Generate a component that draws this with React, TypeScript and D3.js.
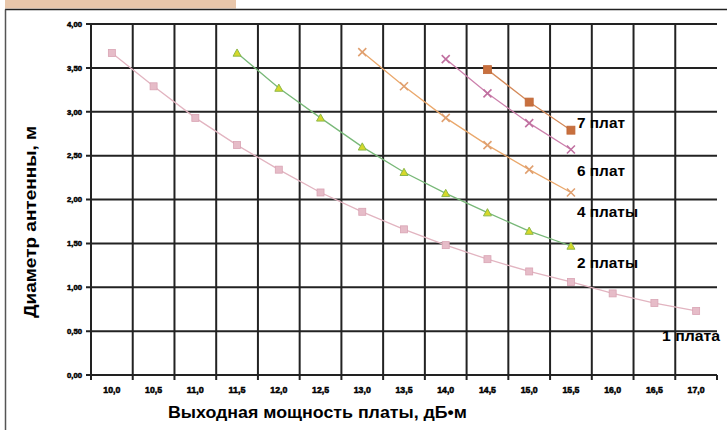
import React from "react";
import * as d3 from "d3";

const categories = ["10,0","10,5","11,0","11,5","12,0","12,5","13,0","13,5","14,0","14,5","15,0","15,5","16,0","16,5","17,0"];
const yTicks = [0, 0.5, 1, 1.5, 2, 2.5, 3, 3.5, 4];
const yTickLabels = ["0,00","0,50","1,00","1,50","2,00","2,50","3,00","3,50","4,00"];

const plate1 = [3.67, 3.29, 2.93, 2.62, 2.34, 2.08, 1.86, 1.66, 1.48, 1.32, 1.18, 1.06, 0.93, 0.82, 0.73];
const plate2 = [null, null, null, 3.67, 3.27, 2.93, 2.6, 2.31, 2.07, 1.85, 1.64, 1.47, null, null, null];
const plate4 = [null, null, null, null, null, null, 3.68, 3.29, 2.93, 2.62, 2.34, 2.08, null, null, null];
const plate6 = [null, null, null, null, null, null, null, null, 3.6, 3.21, 2.87, 2.57, null, null, null];
const plate7 = [null, null, null, null, null, null, null, null, null, 3.48, 3.11, 2.79, null, null, null];

const seriesNames = ["1 плата", "2 платы", "4 платы", "6 плат", "7 плат"];

type Pt = { i: number; v: number };

export default function App() {
  const W = 727, H = 430;
  const left = 91, right = 717, top = 24, bottom = 375;
  const x = d3.scaleBand<string>().domain(categories).range([left, right]).paddingInner(0).paddingOuter(0);
  const y = d3.scaleLinear().domain([0, 4]).range([bottom, top]);
  const bw = x.bandwidth();
  const cx = (i: number) => (x(categories[i]) as number) + bw / 2;

  const toPts = (arr: (number | null)[]): Pt[] =>
    arr.map((v, i) => ({ i, v: v as number })).filter((p) => p.v !== null && p.v !== undefined);

  const line = d3.line<Pt>().x((p) => cx(p.i)).y((p) => y(p.v));

  const series = [
    { data: plate1, line: "#e2b4c0", marker: "square", fill: "#e6bcc8", stroke: "#d9a4b4", size: 7 },
    { data: plate2, line: "#78b878", marker: "triangle", fill: "#d6d82a", stroke: "#8cb84a", size: 8 },
    { data: plate4, line: "#eaa86c", marker: "x", fill: "none", stroke: "#e0a070", size: 8 },
    { data: plate6, line: "#cc80ac", marker: "x", fill: "none", stroke: "#c070a0", size: 8 },
    { data: plate7, line: "#d48a5a", marker: "square", fill: "#c8703e", stroke: "#c06838", size: 8 },
  ];

  const vLines = d3.range(categories.length).map((i) => x(categories[i]) as number);

  const labelFont = "'Liberation Sans Narrow', 'Arial Narrow', 'Liberation Sans', Arial, sans-serif";

  const seriesLabels = [
    { text: "7 плат", x: 577, y: 128, w: 48 },
    { text: "6 плат", x: 577, y: 175.5, w: 48 },
    { text: "4 платы", x: 577, y: 217, w: 61 },
    { text: "2 платы", x: 577, y: 267.5, w: 61 },
    { text: "1 плата", x: 662, y: 340.5, w: 58 },
  ];

  const renderMarker = (s: any, p: Pt, k: number) => {
    const px = cx(p.i), py = y(p.v), r = s.size / 2;
    if (s.marker === "square") {
      return <rect key={k} x={px - r} y={py - r} width={s.size} height={s.size} fill={s.fill} stroke={s.stroke} strokeWidth={0.8} />;
    }
    if (s.marker === "triangle") {
      const path = `M${px},${py - r}L${px + r},${py + r * 0.8}L${px - r},${py + r * 0.8}Z`;
      return <path key={k} d={path} fill={s.fill} stroke={s.stroke} strokeWidth={1} />;
    }
    return (
      <path key={k} d={`M${px - r},${py - r}L${px + r},${py + r}M${px - r},${py + r}L${px + r},${py - r}`}
        stroke={s.stroke} strokeWidth={1.6} fill="none" />
    );
  };

  return (
    <svg width={W} height={H} style={{ position: "absolute", left: 0, top: 0, background: "#fff" }}>
      <rect x={0} y={0} width={W} height={H} fill="#fff" />
      {/* banner and frame */}
      <rect x={5} y={0} width={231} height={8.5} fill="#e8c6aa" />
      <line x1={5} y1={9.5} x2={W} y2={9.5} stroke="#222" strokeWidth={1.5} />
      <line x1={5.5} y1={9.5} x2={5.5} y2={H} stroke="#555" strokeWidth={1.5} />

      {/* horizontal gridlines */}
      {yTicks.map((t, i) => (
        <line key={"h" + i} x1={left - 5} x2={right} y1={y(t)} y2={y(t)} stroke="#222" strokeWidth={2} />
      ))}
      {/* vertical gridlines */}
      {vLines.map((vx, i) => (
        <line key={"v" + i} x1={vx} x2={vx} y1={top} y2={bottom + 5} stroke="#222" strokeWidth={2} />
      ))}
      <line x1={right} x2={right} y1={bottom} y2={bottom + 5} stroke="#222" strokeWidth={2} />

      {/* y tick labels */}
      {yTicks.map((t, i) => (
        <text key={"yl" + i} x={82} y={y(t) + 2.8} textAnchor="end" fontSize={8} fontWeight="900"
          fontFamily={labelFont} fill="#000" stroke="#000" strokeWidth={0.5} textLength={15} lengthAdjust="spacingAndGlyphs">
          {yTickLabels[i]}
        </text>
      ))}
      {/* x tick labels */}
      {categories.map((c, i) => (
        <text key={"xl" + i} x={cx(i)} y={393} textAnchor="middle" fontSize={8.5} fontWeight="900"
          fontFamily={labelFont} fill="#000" stroke="#000" strokeWidth={0.5} textLength={17} lengthAdjust="spacingAndGlyphs">
          {c}
        </text>
      ))}

      {/* series */}
      {series.map((s, si) => {
        const pts = toPts(s.data);
        return (
          <g key={"s" + si}>
            <path d={line(pts) as string} fill="none" stroke={s.line} strokeWidth={1.3} />
            {pts.map((p, k) => renderMarker(s, p, k))}
          </g>
        );
      })}

      {/* series labels */}
      {seriesLabels.map((l, i) => (
        <text key={"sl" + i} x={l.x} y={l.y} fontSize={15} fontWeight="bold" fontFamily={labelFont}
          fill="#000" textLength={l.w} lengthAdjust="spacingAndGlyphs">
          {l.text}
        </text>
      ))}

      {/* axis titles */}
      <text x={168} y={418} fontSize={17} fontWeight="bold" fontFamily={labelFont} fill="#000"
        textLength={299} lengthAdjust="spacingAndGlyphs">
        Выходная мощность платы, дБ•м
      </text>
      <text transform="translate(36,222) rotate(-90)" textAnchor="middle" fontSize={16} fontWeight="bold"
        fontFamily={labelFont} fill="#000" textLength={192} lengthAdjust="spacingAndGlyphs">
        Диаметр антенны, м
      </text>
    </svg>
  );
}
